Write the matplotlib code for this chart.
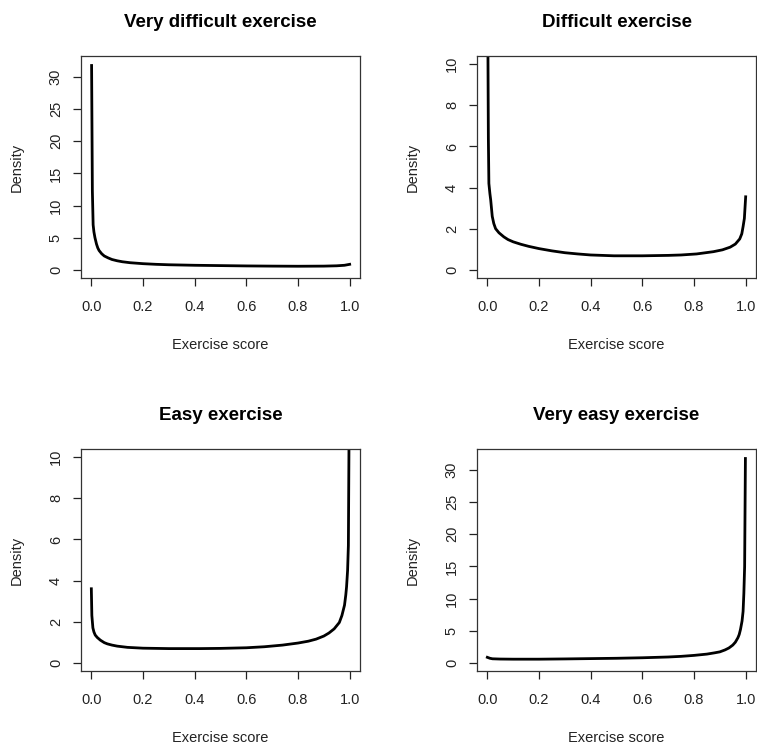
import matplotlib
matplotlib.use("Agg")
import matplotlib.pyplot as plt
import numpy as np

plt.rcParams['font.family'] = ['Liberation Sans', 'DejaVu Sans']

# density curves (x = exercise score, y = density)
x_very_difficult = [0.001, 0.004, 0.007, 0.01, 0.014, 0.02, 0.025, 0.03, 0.04, 0.05,
                    0.065, 0.08, 0.1, 0.12, 0.15, 0.2, 0.25, 0.3, 0.4, 0.5,
                    0.6, 0.7, 0.8, 0.9, 0.95, 0.98, 1.0]
y_very_difficult = [31.8, 12.3, 7.0, 5.9, 5.0, 4.0, 3.4, 3.0, 2.5, 2.15,
                    1.85, 1.6, 1.4, 1.25, 1.1, 0.95, 0.85, 0.78, 0.7, 0.65,
                    0.6, 0.57, 0.55, 0.57, 0.62, 0.7, 0.85]

x_difficult = [0.001, 0.004, 0.006, 0.01, 0.013, 0.019, 0.025, 0.032, 0.045, 0.064,
               0.08, 0.1, 0.13, 0.16, 0.2, 0.25, 0.3, 0.35, 0.4, 0.49,
               0.6, 0.7, 0.75, 0.81, 0.875, 0.91, 0.94, 0.96, 0.977, 0.985,
               0.99, 0.995, 1.0]
y_difficult = [14.0, 6.4, 4.2, 3.7, 3.4, 2.6, 2.25, 2.0, 1.8, 1.6,
               1.47, 1.36, 1.24, 1.14, 1.03, 0.92, 0.83, 0.77, 0.72, 0.68,
               0.68, 0.7, 0.72, 0.77, 0.88, 0.97, 1.1, 1.25, 1.5, 1.75,
               2.1, 2.5, 3.55]

x_easy = [0.0, 0.002, 0.006, 0.01, 0.015, 0.023, 0.035, 0.05, 0.062, 0.08,
          0.1, 0.14, 0.2, 0.3, 0.42, 0.5, 0.6, 0.67, 0.74, 0.8,
          0.84, 0.87, 0.9, 0.92, 0.94, 0.96, 0.97, 0.98, 0.985, 0.988,
          0.992, 0.995, 0.999]
y_easy = [3.6, 2.3, 1.7, 1.5, 1.35, 1.23, 1.1, 0.98, 0.92, 0.86,
          0.81, 0.75, 0.71, 0.69, 0.69, 0.7, 0.73, 0.78, 0.86, 0.96,
          1.05, 1.15, 1.3, 1.45, 1.65, 1.96, 2.3, 2.8, 3.3, 3.7,
          4.5, 5.7, 14.0]

x_very_easy = [0.0, 0.01, 0.02, 0.05, 0.1, 0.2, 0.3, 0.4, 0.5, 0.6,
               0.7, 0.75, 0.8, 0.85, 0.88, 0.9, 0.92, 0.935, 0.95, 0.96,
               0.97, 0.975, 0.98, 0.986, 0.99, 0.993, 0.996, 0.999]
y_very_easy = [0.85, 0.7, 0.62, 0.58, 0.56, 0.56, 0.6, 0.65, 0.7, 0.78,
               0.9, 1.0, 1.15, 1.35, 1.55, 1.7, 2.0, 2.3, 2.75, 3.2,
               3.9, 4.4, 5.2, 6.5, 8.0, 10.8, 15.0, 31.8]

titles = ["Very difficult exercise", "Difficult exercise",
          "Easy exercise", "Very easy exercise"]
xs = [x_very_difficult, x_difficult, x_easy, x_very_easy]
ys = [y_very_difficult, y_difficult, y_easy, y_very_easy]
ymaxes = [32, 10, 10, 32]
ysteps = [5, 2, 2, 5]

fig = plt.figure(figsize=(7.57, 7.49), dpi=100)
lefts = [81, 477, 81, 477]
tops = [56, 56, 449, 449]
W, H = 757, 749

for i in range(4):
    ax = fig.add_axes([lefts[i] / W, 1 - (tops[i] + 222) / H, 279 / W, 222 / H])
    ax.plot(xs[i], ys[i], color='black', lw=2.0, solid_joinstyle='round')
    ax.set_xlim(-0.04, 1.04)
    ym = ymaxes[i]
    ax.set_ylim(-0.04 * ym, 1.04 * ym)
    ax.set_xticks(np.arange(0, 1.01, 0.2))
    ax.set_xticklabels(["0.0", "0.2", "0.4", "0.6", "0.8", "1.0"])
    ax.set_yticks(np.arange(0, ym - ym % ysteps[i] + 0.1, ysteps[i]))
    ax.tick_params(axis='both', direction='out', length=6, width=0.9,
                   labelsize=10.5, color='#222222', labelcolor='#222222')
    ax.tick_params(axis='x', pad=10)
    ax.tick_params(axis='y', pad=7)
    for lab in ax.get_yticklabels():
        lab.set_rotation(90)
        lab.set_va('center')
    for s in ax.spines.values():
        s.set_linewidth(0.9)
        s.set_color('#333333')
    ax.set_title(titles[i], fontsize=13.5, fontweight='bold', pad=21)
    ax.set_xlabel("Exercise score", fontsize=10.5, labelpad=17, color='#222222')
    ax.set_ylabel("Density", fontsize=10.5, labelpad=18, color='#222222')

fig.savefig("out.png", dpi=100)
